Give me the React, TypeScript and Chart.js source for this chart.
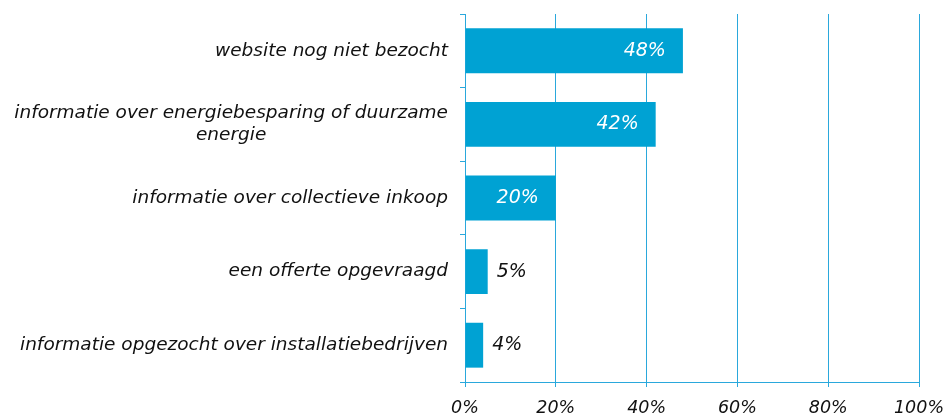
import React, { useEffect, useRef } from "react";
import { Chart, registerables } from "chart.js";

Chart.register(...registerables);

const categories: string[][] = [
  ["website nog niet bezocht"],
  ["informatie over energiebesparing of duurzame", "energie"],
  ["informatie over collectieve inkoop"],
  ["een offerte opgevraagd"],
  ["informatie opgezocht over installatiebedrijven"],
];
const values: number[] = [48, 42, 20, 5, 4];
const xTicks: number[] = [0, 20, 40, 60, 80, 100];

const BAR = "#00a2d3";
const GRID = "#2aa8dc";
const FONT = "'DejaVu Sans', Verdana, sans-serif";

const labelPlugin = {
  id: "customLabels",
  afterDatasetsDraw(chart: any) {
    const ctx = chart.ctx;
    const meta = chart.getDatasetMeta(0);
    const yScale = chart.scales.y;
    ctx.save();
    // data labels
    ctx.font = `italic 19px ${FONT}`;
    ctx.textBaseline = "middle";
    meta.data.forEach((bar: any, i: number) => {
      const v = values[i];
      const txt = `${v}%`;
      if (v >= 10) {
        ctx.fillStyle = "#ffffff";
        ctx.textAlign = "right";
        ctx.fillText(txt, bar.x - 17, bar.y);
      } else {
        ctx.fillStyle = "#111111";
        ctx.textAlign = "left";
        ctx.fillText(txt, bar.x + 9, bar.y);
      }
    });
    // category labels
    ctx.font = `italic 18.5px ${FONT}`;
    ctx.fillStyle = "#111111";
    const rightX = 448;
    const lh = 22;
    categories.forEach((lines, i) => {
      const cy = yScale.getPixelForValue(i);
      const widths = lines.map((l) => ctx.measureText(l).width);
      const maxW = Math.max(...widths);
      const cx = rightX - maxW / 2;
      ctx.textAlign = "center";
      const start = cy - ((lines.length - 1) * lh) / 2;
      lines.forEach((l, j) => {
        ctx.fillText(l, cx, start + j * lh);
      });
    });
    ctx.restore();
  },
};

export default function App() {
  const ref = useRef<HTMLCanvasElement | null>(null);
  useEffect(() => {
    document.body.style.margin = "0";
    if (!ref.current) return;
    const chart = new Chart(ref.current, {
      type: "bar",
      data: {
        labels: categories.map((c) => c.join(" ")),
        datasets: [
          {
            data: values,
            backgroundColor: BAR,
            borderWidth: 0,
            barPercentage: 0.61,
            categoryPercentage: 1,
          },
        ],
      },
      options: {
        indexAxis: "y",
        animation: false,
        responsive: false,
        maintainAspectRatio: false,
        layout: { padding: { top: 14, right: 31, left: 0, bottom: 0 } },
        plugins: { legend: { display: false }, tooltip: { enabled: false } },
        scales: {
          x: {
            min: 0,
            max: 100,
            afterBuildTicks(scale: any) {
              scale.ticks = xTicks.map((v) => ({ value: v }));
            },
            ticks: {
              callback: (v: any) => `${v}%`,
              font: { family: FONT, size: 17.5, style: "italic" },
              color: "#111111",
              padding: 11,
              maxRotation: 0,
            },
            grid: {
              color: GRID,
              lineWidth: 1,
              tickLength: 5,
              drawOnChartArea: true,
            },
            border: { display: true, color: GRID, width: 1 },
            afterFit(scale: any) {
              scale.height = 35;
              scale.paddingRight = 0;
              scale.paddingLeft = 0;
            },
          },
          y: {
            ticks: { display: false },
            grid: {
              color: GRID,
              drawOnChartArea: false,
              tickLength: 5,
              offset: true,
            },
            border: { display: true, color: GRID, width: 1 },
            afterFit(scale: any) {
              scale.width = 465;
              scale.paddingTop = 0;
              scale.paddingBottom = 0;
            },
          },
        },
      },
      plugins: [labelPlugin],
    });
    return () => chart.destroy();
  }, []);
  return (
    <div style={{ width: 950, height: 417, background: "#fff" }}>
      <canvas ref={ref} width={950} height={417} style={{ display: "block" }} />
    </div>
  );
}
